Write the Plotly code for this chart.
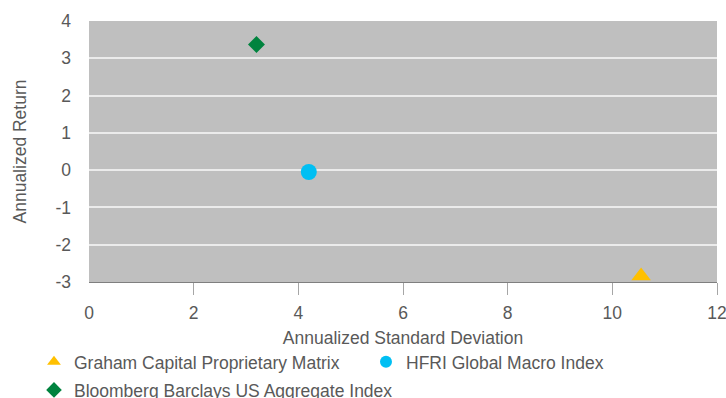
import plotly.graph_objects as go

series_names = ["Graham Capital Proprietary Matrix", "HFRI Global Macro Index",
                "Bloomberg Barclays US Aggregate Index"]
std_dev = [10.55, 4.2, 3.2]
ann_return = [-2.84, -0.05, 3.37]
symbols = ["triangle-up", "circle", "diamond"]
colors = ["#FFC000", "#00BFF3", "#00833E"]
sizes = [17, 16, 13]
legend_ids = ["legend", "legend", "legend2"]

x_ticks = [0, 2, 4, 6, 8, 10, 12]
y_ticks = [-3, -2, -1, 0, 1, 2, 3, 4]
y_tick_text = ["-3", "-2", "-1", "0", "1", "2", "3", "4"]

FONT = "Liberation Sans, Arial, sans-serif"
TEXT = "#595959"

fig = go.Figure()
for name, x, y, sym, col, sz, lg in zip(series_names, std_dev, ann_return, symbols,
                                        colors, sizes, legend_ids):
    fig.add_trace(go.Scatter(
        x=[x], y=[y], mode="markers", name=name, legend=lg,
        marker=dict(symbol=sym, color=col, size=sz, line=dict(width=0)),
    ))

legend_style = dict(
    orientation="h", xanchor="left", yanchor="top",
    font=dict(family=FONT, size=17.5, color=TEXT), itemsizing="constant",
    bgcolor="rgba(0,0,0,0)",
)

fig.update_layout(
    width=726, height=398,
    margin=dict(l=89, r=9, t=21, b=116, autoexpand=False),
    paper_bgcolor="white",
    plot_bgcolor="#BFBFBF",
    font=dict(family=FONT, size=17.5, color=TEXT),
    showlegend=True,
    legend=dict(x=-0.0876, y=-0.2375, entrywidth=287, entrywidthmode="pixels", **legend_style),
    legend2=dict(x=-0.0876, y=-0.345, **legend_style),
    xaxis=dict(
        range=[0, 12], tickvals=x_ticks, showgrid=False, zeroline=False,
        showline=True, linecolor="#7F7F7F", linewidth=1,
        ticks="", ticklabelstandoff=15,
        minor=dict(tickvals=x_ticks[1:], ticks="outside", ticklen=12,
                   tickcolor="#A6A6A6", showgrid=False),
        ticklabeloverflow="allow",
        tickfont=dict(family=FONT, size=17.5, color=TEXT),
        title=dict(text="Annualized Standard Deviation", standoff=9,
                   font=dict(family=FONT, size=17.5, color=TEXT)),
        automargin=False,
    ),
    yaxis=dict(
        range=[-3, 4], tickvals=y_ticks, ticktext=y_tick_text,
        showgrid=True, gridcolor="#EBEBEB", gridwidth=2,
        zeroline=False, showline=False, ticks="", ticklabelstandoff=17,
        tickfont=dict(family=FONT, size=17.5, color=TEXT),
        title=dict(text="Annualized Return", standoff=24,
                   font=dict(family=FONT, size=17.5, color=TEXT)),
        automargin=False,
    ),
)

fig.write_html("out.html", config={"displayModeBar": False},
               post_script="document.body.style.margin='0';")
